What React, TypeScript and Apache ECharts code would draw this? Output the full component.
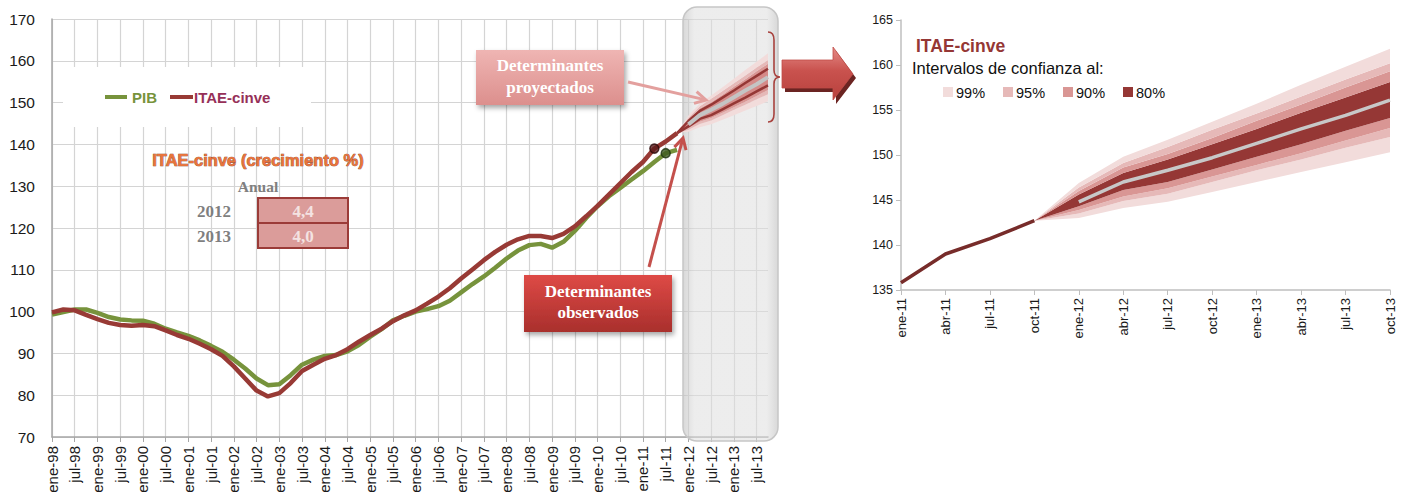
import React, { useEffect, useRef } from 'react';
import * as echarts from 'echarts';

// ---------- categories ----------
const years = ['98', '99', '00', '01', '02', '03', '04', '05', '06', '07', '08', '09', '10', '11', '12', '13'];
const months = ['ene', 'abr', 'jul', 'oct'];
const quarters: string[] = [];
years.forEach((y) => months.forEach((m) => quarters.push(`${m}-${y}`)));

// ---------- observed series (ene-98 .. oct-11) ----------
const pib = [
  99.3, 99.9, 100.5, 100.5, 99.7, 98.7, 98.1, 97.9, 97.8, 97.1,
  95.9, 95.0, 94.2, 93.1, 91.8, 90.4, 88.5, 86.4, 84.0, 82.4,
  82.6, 84.8, 87.3, 88.5, 89.4, 89.6, 90.5, 92.0, 94.0, 95.8,
  97.9, 99.0, 100.0, 100.6, 101.3, 102.6, 104.6, 106.6, 108.4, 110.5,
  112.7, 114.6, 115.9, 116.2, 115.3, 116.7, 119.3, 122.4, 125.2, 127.6,
  129.6, 131.6, 133.6, 135.8, 137.9, 138.7,
];
const itae = [
  99.8, 100.5, 100.3, 99.2, 98.2, 97.3, 96.8, 96.6, 96.8, 96.5,
  95.5, 94.4, 93.5, 92.3, 91.0, 89.4, 86.9, 84.0, 81.1, 79.7,
  80.5, 82.9, 85.8, 87.3, 88.7, 89.6, 91.0, 92.8, 94.4, 95.9,
  97.7, 99.1, 100.3, 101.9, 103.6, 105.6, 107.9, 110.1, 112.3, 114.3,
  116.0, 117.3, 118.1, 118.1, 117.6, 118.6, 120.4, 122.8, 125.3, 128.0,
  130.7, 133.4, 135.8, 139.0, 140.7, 142.7,
];

// ---------- forecast (oct-11 .. oct-13) ----------
const fcCentral = [142.7, 144.8, 147.0, 148.3, 149.7, 151.3, 152.9, 154.4, 156.1];
const lo80 = [142.7, 144.3, 146.1, 147.0, 148.4, 149.8, 151.2, 152.7, 154.1];
const hi80 = [142.7, 145.6, 148.0, 149.5, 151.2, 152.9, 154.7, 156.4, 158.1];
const lo90 = [142.7, 143.9, 145.4, 146.3, 147.6, 148.9, 150.2, 151.6, 153.0];
const hi90 = [142.7, 146.0, 148.6, 150.1, 151.9, 153.8, 155.6, 157.5, 159.3];
const lo95 = [142.7, 143.5, 144.9, 145.7, 147.0, 148.3, 149.5, 150.8, 152.0];
const hi95 = [142.7, 146.4, 149.1, 150.9, 152.8, 154.6, 156.5, 158.4, 160.2];
const lo99 = [142.7, 143.0, 144.1, 144.8, 145.9, 147.0, 148.1, 149.2, 150.3];
const hi99 = [142.7, 146.9, 149.8, 151.7, 153.7, 155.7, 157.8, 159.8, 161.8];

const growthYears = ['2012', '2013'];
const growthValues = ['4,4', '4,0'];
const bandLabels = ['99%', '95%', '90%', '80%'];

const C99 = '#F2DCDB';
const C95 = '#E6B9B8';
const C90 = '#D99694';
const C80 = '#953735';
const GREEN = '#77933C';
const RED = '#983A35';

const FC_L = quarters.indexOf('oct-11');
const rightCats = quarters.slice(quarters.indexOf('ene-11'));
const FC_R = rightCats.indexOf('oct-11');

function pad(vals: any[], offset: number, total: number) {
  const out: any[] = [];
  for (let i = 0; i < total; i++) {
    const j = i - offset;
    out.push(j >= 0 && j < vals.length ? vals[j] : '-');
  }
  return out;
}
function diff(a: number[], b: number[]) {
  return a.map((v, i) => +(v - b[i]).toFixed(3));
}

function fan(xi: number, stackName: string, offset: number, total: number, colors: string[], z: number) {
  const layers: [number[], string | null][] = [
    [lo99, null],
    [diff(lo95, lo99), colors[0]],
    [diff(lo90, lo95), colors[1]],
    [diff(lo80, lo90), colors[2]],
    [diff(hi80, lo80), colors[3]],
    [diff(hi90, hi80), colors[2]],
    [diff(hi95, hi90), colors[1]],
    [diff(hi99, hi95), colors[0]],
  ];
  return layers.map(([d, c]) => ({
    type: 'line',
    xAxisIndex: xi,
    yAxisIndex: xi,
    stack: stackName,
    data: pad(d, offset, total),
    symbol: 'none',
    showSymbol: false,
    lineStyle: { width: 0, opacity: 0 },
    areaStyle: c ? { color: c, opacity: 1 } : undefined,
    z,
    silent: true,
  }));
}

function arrow(x1: number, y1: number, x2: number, y2: number, color: string, w: number) {
  const dx = x2 - x1, dy = y2 - y1;
  const L = Math.sqrt(dx * dx + dy * dy);
  const ux = dx / L, uy = dy / L;
  const px = -uy, py = ux;
  const bx = x2 - 11 * ux, by = y2 - 11 * uy;
  return [
    { type: 'line', z: 20, shape: { x1, y1, x2: x2 - 1.5 * ux, y2: y2 - 1.5 * uy }, style: { stroke: color, lineWidth: w } },
    {
      type: 'polyline', z: 20,
      shape: { points: [[bx + 6 * px, by + 6 * py], [x2, y2], [bx - 6 * px, by - 6 * py]] },
      style: { stroke: color, lineWidth: w, fill: 'none', lineJoin: 'miter' },
    },
  ];
}

function txt(x: number, y: number, text: string, font: string, fill: string, align = 'left', extra: any = {}) {
  return {
    type: 'text', z: 20, x, y,
    style: { text, font, fill, align, textAlign: align, verticalAlign: 'middle', textVerticalAlign: 'middle', ...extra },
  };
}

const SERIF = '"Liberation Serif", "DejaVu Serif", serif';
const SANS = '"Liberation Sans", Arial, sans-serif';

export default function App() {
  const ref = useRef<HTMLDivElement>(null);
  useEffect(() => {
    if (!ref.current) return;
    try {
      echarts.graphic.registerShape(
        'brace',
        echarts.graphic.extendPath('M768,32 Q774,32 774,40 L774,70 Q774,77 780,77 Q774,77 774,84 L774,114 Q774,122 768,122', {})
      );
    } catch (e) { /* already registered */ }
    const chart = echarts.init(ref.current, undefined, { renderer: 'svg' });
    const N = quarters.length;
    const NR = rightCats.length;

    const series: any[] = [
      {
        type: 'line', name: 'PIB', xAxisIndex: 0, yAxisIndex: 0, data: pad(pib, 0, N),
        symbol: 'none', lineStyle: { color: GREEN, width: 4.5 }, z: 5,
      },
      {
        type: 'line', name: 'ITAE-cinve', xAxisIndex: 0, yAxisIndex: 0, data: pad(itae, 0, N),
        symbol: 'none', lineStyle: { color: RED, width: 4.5 }, z: 6,
      },
      ...fan(0, 'fanL', FC_L, N, [C99, C95, C90, '#D58A88'], 3),
      {
        type: 'line', xAxisIndex: 0, yAxisIndex: 0, data: pad(hi80, FC_L, N), symbol: 'none',
        lineStyle: { color: C80, width: 2.5 }, z: 4,
      },
      {
        type: 'line', xAxisIndex: 0, yAxisIndex: 0, data: pad(lo80, FC_L, N), symbol: 'none',
        lineStyle: { color: C80, width: 2.5 }, z: 4,
      },
      {
        type: 'line', xAxisIndex: 0, yAxisIndex: 0, data: pad(fcCentral.slice(1), FC_L + 1, N), symbol: 'none',
        lineStyle: { color: '#C4C4C4', width: 4 }, z: 7,
      },
      {
        type: 'scatter', xAxisIndex: 0, yAxisIndex: 0, symbolSize: 9, z: 8,
        data: itae.map((v, i) => (i === quarters.indexOf('abr-11') ? v : '-')),
        itemStyle: { color: '#5A1A1A', borderColor: '#2B0808', borderWidth: 1.5 },
      },
      {
        type: 'scatter', xAxisIndex: 0, yAxisIndex: 0, symbolSize: 9, z: 8,
        data: pib.map((v, i) => (i === quarters.indexOf('jul-11') ? v : '-')),
        itemStyle: { color: '#3D5A1F', borderColor: '#1F3310', borderWidth: 1.5 },
      },
      // right chart
      ...fan(1, 'fanR', FC_R, NR, [C99, C95, C90, C80], 3),
      {
        type: 'line', xAxisIndex: 1, yAxisIndex: 1, data: pad(itae.slice(quarters.indexOf('ene-11')), 0, NR),
        symbol: 'none', lineStyle: { color: '#772C2A', width: 3.5 }, z: 5,
      },
      {
        type: 'line', xAxisIndex: 1, yAxisIndex: 1, data: pad(fcCentral.slice(1), FC_R + 1, NR), symbol: 'none',
        lineStyle: { color: '#C8C8C8', width: 3.5 }, z: 6,
      },
    ];

    const bigArrowGrad = new echarts.graphic.LinearGradient(0, 0, 0, 1, [
      { offset: 0, color: '#E58A86' },
      { offset: 0.45, color: '#C9524E' },
      { offset: 1, color: '#B8413D' },
    ]);
    const shadeGrad = new echarts.graphic.LinearGradient(0, 0, 1, 0, [
      { offset: 0, color: 'rgba(190,190,190,0.6)' },
      { offset: 0.12, color: 'rgba(222,222,222,0.55)' },
      { offset: 0.88, color: 'rgba(222,222,222,0.55)' },
      { offset: 1, color: 'rgba(190,190,190,0.6)' },
    ]);
    const box1Grad = new echarts.graphic.LinearGradient(0, 0, 0, 1, [
      { offset: 0, color: '#EFB5B3' },
      { offset: 1, color: '#DC8F8D' },
    ]);
    const box2Grad = new echarts.graphic.LinearGradient(0, 0, 0, 1, [
      { offset: 0, color: '#DE4A46' },
      { offset: 1, color: '#A92F2C' },
    ]);

    const graphics: any[] = [
      // shaded forecast zone
      {
        type: 'rect', z: 1, shape: { x: 683, y: 7, width: 95, height: 434, r: 14 },
        style: { fill: shadeGrad, stroke: '#C6C6C6', lineWidth: 1.5 },
      },
      // legend background
      { type: 'rect', z: 1, shape: { x: 63, y: 67, width: 248, height: 60 }, style: { fill: '#FFFFFF' } },
      { type: 'line', z: 20, shape: { x1: 105, y1: 97, x2: 127, y2: 97 }, style: { stroke: GREEN, lineWidth: 4 } },
      txt(132, 97, 'PIB', `bold 15px ${SANS}`, GREEN),
      { type: 'line', z: 20, shape: { x1: 170, y1: 97, x2: 193, y2: 97 }, style: { stroke: RED, lineWidth: 4 } },
      txt(194, 97, 'ITAE-cinve', `bold 15px ${SANS}`, '#963058'),
      // growth table
      txt(258, 160, 'ITAE-cinve (crecimiento %)', `bold 16.5px ${SANS}`, '#E8743B', 'center', { stroke: '#8B3A1A', lineWidth: 0.7 }),
      txt(258, 186, 'Anual', `bold 15.5px ${SERIF}`, '#808080', 'center'),
      ...growthYears.flatMap((yr, i) => [
        {
          type: 'rect', z: 19, shape: { x: 258, y: 198 + i * 25, width: 90, height: 25 },
          style: { fill: '#DB9C9A', stroke: '#9B3B38', lineWidth: 2 },
        },
        txt(231, 211 + i * 25, yr, `bold 17px ${SERIF}`, '#7F7F7F', 'right'),
        txt(303, 211 + i * 25, growthValues[i], `bold 17px ${SERIF}`, '#F4E3E2', 'center'),
      ]),
      // callout 1
      {
        type: 'rect', z: 19, shape: { x: 476, y: 50, width: 148, height: 55 },
        style: { fill: box1Grad, shadowBlur: 5, shadowOffsetX: 2, shadowOffsetY: 3, shadowColor: 'rgba(0,0,0,0.35)' },
      },
      txt(550, 76, 'Determinantes\nproyectados', `bold 17px ${SERIF}`, '#FFFFFF', 'center', { lineHeight: 22 }),
      ...arrow(628, 82, 706, 100, '#E3A09E', 3),
      // callout 2
      {
        type: 'rect', z: 19, shape: { x: 524, y: 275, width: 148, height: 57 },
        style: { fill: box2Grad, shadowBlur: 5, shadowOffsetX: 2, shadowOffsetY: 3, shadowColor: 'rgba(0,0,0,0.35)' },
      },
      txt(598, 302, 'Determinantes\nobservados', `bold 17px ${SERIF}`, '#FFFFFF', 'center', { lineHeight: 21 }),
      ...arrow(649, 267, 683, 138, '#C4504C', 3),
      // brace
      { type: 'brace', z: 20, shape: {}, style: { stroke: '#A8423E', lineWidth: 1.6, fill: 'none' } },
      // big arrow
      {
        type: 'polygon', z: 19,
        shape: { points: [[785, 64], [836, 64], [836, 51], [856, 78], [836, 104], [836, 92], [785, 92]] },
        style: { fill: '#6B2422' },
      },
      {
        type: 'polygon', z: 20,
        shape: { points: [[782, 60], [833, 60], [833, 47], [853, 74], [833, 100], [833, 88], [782, 88]] },
        style: { fill: bigArrowGrad, stroke: '#C04C48', lineWidth: 0.8 },
      },
      // right chart headings
      txt(916, 46, 'ITAE-cinve', `bold 17.5px ${SANS}`, '#953735'),
      txt(912, 68, 'Intervalos de confianza al:', `16.5px ${SANS}`, '#111111'),
      ...bandLabels.flatMap((lab, i) => {
        const x = 943 + i * 60;
        const col = [C99, C95, C90, C80][i];
        return [
          { type: 'rect', z: 20, shape: { x, y: 87, width: 10, height: 10 }, style: { fill: col } },
          txt(x + 13, 92.5, lab, `14.5px ${SANS}`, '#111111'),
        ];
      }),
    ];

    chart.setOption({
      animation: false,
      textStyle: { fontFamily: SANS },
      grid: [
        { left: 52, top: 19, width: 716, height: 418 },
        { left: 901, top: 20, width: 489, height: 270 },
      ],
      xAxis: [
        {
          type: 'category', gridIndex: 0, data: quarters, boundaryGap: false,
          axisLine: { lineStyle: { color: '#A6A6A6', width: 1.5 } },
          axisTick: { interval: 1, length: 5, lineStyle: { color: '#A6A6A6' } },
          axisLabel: { interval: 1, rotate: 90, fontSize: 15, color: '#1a1a1a', margin: 9, fontFamily: SANS },
          splitLine: { show: true, interval: 1, lineStyle: { color: '#D4D4D4', width: 1.2 } },
        },
        {
          type: 'category', gridIndex: 1, data: rightCats, boundaryGap: false,
          axisLine: { lineStyle: { color: '#BFBFBF', width: 1.5 } },
          axisTick: { interval: 0, length: 5, lineStyle: { color: '#BFBFBF' } },
          axisLabel: { interval: 0, rotate: 90, fontSize: 13, color: '#1a1a1a', margin: 8, fontFamily: SANS },
          splitLine: { show: false },
        },
      ],
      yAxis: [
        {
          type: 'value', gridIndex: 0, min: 70, max: 170, interval: 10,
          axisLine: { show: true, lineStyle: { color: '#A6A6A6', width: 1.5 } },
          axisTick: { show: false },
          axisLabel: { fontSize: 15.5, color: '#1a1a1a', margin: 17, fontFamily: SANS },
          splitLine: { show: true, lineStyle: { color: '#D4D4D4', width: 1.2 } },
        },
        {
          type: 'value', gridIndex: 1, min: 135, max: 165, interval: 5,
          axisLine: { show: true, lineStyle: { color: '#BFBFBF', width: 1.5 } },
          axisTick: { show: true, length: 5, lineStyle: { color: '#BFBFBF' } },
          axisLabel: { fontSize: 12.5, color: '#1a1a1a', margin: 8, fontFamily: SANS },
          splitLine: { show: false },
        },
      ],
      series,
      graphic: graphics,
    });
    return () => chart.dispose();
  }, []);
  return <div ref={ref} style={{ position: 'absolute', left: 0, top: 0, width: 1404, height: 503 }} />;
}
